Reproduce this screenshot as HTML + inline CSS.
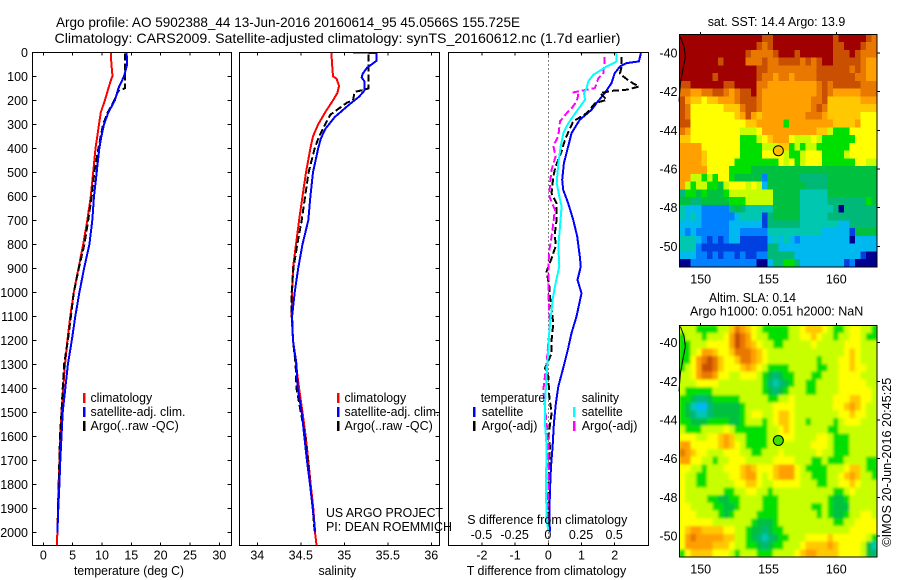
<!DOCTYPE html>
<html lang="en">
<head>
<meta charset="utf-8">
<title>Argo profile 5902388_44</title>
<style>
html,body{margin:0;padding:0;background:#fff;width:900px;height:580px;overflow:hidden}
svg{display:block}
text{font-family:"Liberation Sans",sans-serif;fill:#000;font-size:12.5px}
</style>
</head>
<body>
<svg id="fig" xmlns="http://www.w3.org/2000/svg" width="900" height="580" viewBox="0 0 900 580">
<defs>
<clipPath id="clip-t"><rect x="32" y="52" width="200" height="493"/></clipPath>
<clipPath id="clip-s"><rect x="239" y="52" width="201" height="493"/></clipPath>
<clipPath id="clip-d"><rect x="448" y="52" width="201" height="493"/></clipPath>
<clipPath id="clip-m1"><rect x="679" y="34" width="198" height="233"/></clipPath>
<clipPath id="clip-m2"><rect x="679" y="325" width="198" height="232"/></clipPath>
<filter id="smooth" x="-5%" y="-5%" width="110%" height="110%"><feGaussianBlur stdDeviation="1.3"/></filter>
</defs>
<rect x="0" y="0" width="900" height="580" fill="#fff"/>

<text x="56" y="27" font-size="14" style="font-size:14px" textLength="464" lengthAdjust="spacingAndGlyphs">Argo profile: AO 5902388_44 13-Jun-2016 20160614_95 45.0566S 155.725E</text>
<text x="54.5" y="43" font-size="14" style="font-size:14px" textLength="566" lengthAdjust="spacingAndGlyphs">Climatology: CARS2009. Satellite-adjusted climatology: synTS_20160612.nc (1.7d earlier)</text>

<g id="panel-t"></g>
<g id="panel-s"></g>
<g id="panel-d"></g>
<g id="map-sst"></g>
<g id="map-sla"></g>

<text x="74" y="575" textLength="110" lengthAdjust="spacingAndGlyphs">temperature (deg C)</text>
<text x="318.5" y="575" textLength="37.5" lengthAdjust="spacingAndGlyphs">salinity</text>
<text x="466.7" y="575" textLength="159.5" lengthAdjust="spacingAndGlyphs">T difference from climatology</text>
<text x="467.3" y="524" textLength="160" lengthAdjust="spacingAndGlyphs">S difference from climatology</text>

<g>
<rect x="83" y="393" width="2.5" height="10" fill="#f00"/>
<rect x="83" y="407" width="2.5" height="10" fill="#00f"/>
<rect x="83" y="421" width="2.5" height="10" fill="#000"/>
<text x="90.5" y="402" textLength="61.7" lengthAdjust="spacingAndGlyphs">climatology</text>
<text x="90.5" y="416" textLength="95" lengthAdjust="spacingAndGlyphs">satellite-adj. clim.</text>
<text x="90.5" y="430" textLength="88.3" lengthAdjust="spacingAndGlyphs">Argo(..raw -QC)</text>
</g>
<g>
<rect x="337" y="393" width="2.5" height="10" fill="#f00"/>
<rect x="337" y="407" width="2.5" height="10" fill="#00f"/>
<rect x="337" y="421" width="2.5" height="10" fill="#000"/>
<text x="344.5" y="402" textLength="61.7" lengthAdjust="spacingAndGlyphs">climatology</text>
<text x="344.5" y="416" textLength="95" lengthAdjust="spacingAndGlyphs">satellite-adj. clim.</text>
<text x="344.5" y="430" textLength="88.3" lengthAdjust="spacingAndGlyphs">Argo(..raw -QC)</text>
</g>
<g>
<text x="480.7" y="402" textLength="64.3" lengthAdjust="spacingAndGlyphs">temperature</text>
<rect x="473" y="407" width="2.5" height="10" fill="#00f"/>
<rect x="473" y="421" width="2.5" height="10" fill="#000"/>
<text x="481.7" y="416" textLength="41.7" lengthAdjust="spacingAndGlyphs">satellite</text>
<text x="481.7" y="430" textLength="55.7" lengthAdjust="spacingAndGlyphs">Argo(-adj)</text>
<text x="581.7" y="402" textLength="37.3" lengthAdjust="spacingAndGlyphs">salinity</text>
<rect x="573" y="407" width="2.5" height="10" fill="#0ff"/>
<rect x="573" y="421" width="2.5" height="10" fill="#f0f"/>
<text x="581.7" y="416" textLength="41" lengthAdjust="spacingAndGlyphs">satellite</text>
<text x="581.7" y="430" textLength="55.7" lengthAdjust="spacingAndGlyphs">Argo(-adj)</text>
</g>

<text x="326" y="517" textLength="117" lengthAdjust="spacingAndGlyphs">US ARGO PROJECT</text>
<text x="326" y="531" textLength="126" lengthAdjust="spacingAndGlyphs">PI: DEAN ROEMMICH</text>

<text x="707.7" y="26" textLength="137.6" lengthAdjust="spacingAndGlyphs">sat. SST: 14.4  Argo: 13.9</text>
<text x="709" y="302" textLength="87" lengthAdjust="spacingAndGlyphs">Altim. SLA: 0.14</text>
<text x="690" y="315.5" textLength="173.3" lengthAdjust="spacingAndGlyphs">Argo h1000: 0.051 h2000: NaN</text>
<text transform="translate(891 546.7) rotate(-90)" x="0" y="0" textLength="169" lengthAdjust="spacingAndGlyphs">©IMOS 20-Jun-2016 20:45:25</text>
</svg>

<script>
// ---- profile data (depth in dbar) ----
const depthTicks = [0,100,200,300,400,500,600,700,800,900,1000,1100,1200,1300,1400,1500,1600,1700,1800,1900,2000];
const tempTicks = [0,5,10,15,20,25,30];
const salTicks = [34,34.5,35,35.5,36];
const salTickLabels = ['34','34.5','35','35.5','36'];
const tDiffTicks = [-2,-1,0,1,2];
const tDiffLabels = ['-2','-1','0','1','2'];
const sDiffTicks = [-0.5,-0.25,0,0.25,0.5];
const sDiffLabels = ['-0.5','-0.25','0','0.25','0.5'];

const tempClimDepth = [0,50,100,110,150,200,250,300,350,400,500,600,700,800,900,1000,1100,1200,1300,1400,1500,1600,1700,1800,1900,2000,2053];
const tempClim = [11.5,11.6,11.8,11.6,11.1,10.5,9.8,9.5,9.2,8.9,8.5,8.1,7.5,6.8,6,5.2,4.6,4.1,3.7,3.4,3.1,2.85,2.75,2.6,2.5,2.4,2.3];
const tempSatDepth = [0,50,100,150,200,250,300,350,400,500,600,700,800,900,1000,1100,1200,1300,1400,1500,1600,1700,1800,1900,2000];
const tempSat = [14.2,14.3,13.75,12.8,12.2,11.1,10.35,9.9,9.55,9.1,8.65,8.35,7.85,6.95,6.15,5.45,4.85,4.2,3.75,3.3,3.1,2.9,2.75,2.55,2.4];
const tempArgoDepth = [6,150,160,200,250,300,400,500,600,700,800,900,1000,1100,1200,1300,1400,1500,1600,1700,1800,2000];
const tempArgo = [13.9,13.9,12.8,12.1,11,10.2,9.4,8.7,8.25,7.65,7,6.05,5.2,4.7,4.2,3.55,3.3,3.1,2.85,2.75,2.6,2.4];

const salClimDepth = [0,50,100,110,140,170,200,250,300,350,400,500,600,700,800,900,1000,1100,1200,1300,1400,1500,1600,1700,1800,1900,2000,2053];
const salClim = [34.85,34.86,34.87,34.91,34.94,34.92,34.87,34.78,34.7,34.64,34.61,34.56,34.52,34.48,34.445,34.41,34.4,34.395,34.41,34.445,34.48,34.52,34.556,34.586,34.614,34.644,34.663,34.68];
const salSatDepth = [0,3,35,65,90,105,120,160,185,220,270,320,360,400,500,600,700,800,900,1000,1100,1200,1300,1400,1500,1600,1700,1800,1900,2000];
const salSat = [35.1,35.37,35.37,35.26,35.21,35.2,35.23,35.23,35.17,35.05,34.89,34.78,34.73,34.7,34.64,34.61,34.586,34.52,34.47,34.43,34.4,34.41,34.45,34.464,34.51,34.54,34.57,34.606,34.637,34.667];
const salArgoDepth = [10,150,155,165,200,210,260,300,350,400,500,600,700,800,900,1000,1100,1200,1300,1400,1500,1600,1700,1800,1900,2000];
const salArgo = [35.28,35.28,35.24,35.12,35.1,35.03,34.84,34.78,34.71,34.66,34.59,34.55,34.51,34.46,34.415,34.395,34.395,34.41,34.44,34.45,34.5,34.55,34.58,34.606,34.637,34.66];

const dTSatDepth = [3,38,45,59,87,129,170,212,240,281,337,392,462,531,573,629,698,767,851,892,948,1004,1101,1170,1233,1316,1393,1462,1546,1643,1726,1823,1934,1997];
const dTSat = [2.79,2.73,2.36,2.16,2,1.9,1.7,1.45,1.3,0.95,0.7,0.6,0.47,0.42,0.45,0.6,0.75,0.87,0.95,0.98,0.88,1,0.85,0.7,0.6,0.45,0.3,0.23,0.17,0.13,0.08,0.05,0.03,0.05];
const dTArgoDepth = [20,59,87,101,122,143,156,160,170,198,212,254,288,365,413,476,517,587,629,698,753,809,865,913,976,1017,1129,1198,1254,1316,1351,1434,1504,1601,1643,1823,1990];
const dTArgo = [2.21,2.21,2.16,2.26,2.46,2.73,2.36,1.96,1.56,1.76,1.41,1.15,0.75,0.5,0.4,0.22,0.15,0.1,0.25,0.25,0.2,0.22,0.08,-0.05,0.03,0.05,0.15,0.1,0.1,-0.1,0,0.03,0.1,0,0.05,0,0];
const dSSatDepth = [2,3,38,59,94,121,149,170,198,246,295,337,392,462,545,601,642,726,809,892,976,1030,1073,1156,1240,1351,1462,1546,1643,1823,1934,1997];
const dSSat = [0.238,0.515,0.515,0.44,0.339,0.301,0.289,0.269,0.276,0.213,0.151,0.113,0.093,0.075,0.063,0.083,0.1,0.088,0.075,0.083,0.05,0.033,0.025,0.008,0,-0.013,-0.025,-0.025,-0.013,-0.018,-0.013,0];
const dSArgoDepth = [20,50,87,108,149,156,167,177,205,233,254,288,350,389,434,489,545,601,656,712,767,823,892,962,1017,1129,1295,1407,1546,1629,1823,1962];
const dSArgo = [0.422,0.422,0.414,0.377,0.351,0.289,0.188,0.226,0.213,0.176,0.138,0.088,0.075,0.038,0.055,0.025,0.013,0.008,0.05,0.038,0.025,0.008,0,0,0,0.013,-0.013,-0.038,-0.013,0,0,-0.008];

// ---- map data ----
const lonTicks = [150,155,160];
const latTicks = [-40,-42,-44,-46,-48,-50];
const coastLon = [148.5,148.77,148.87,148.68,148.5,148.4];
const coastLat = [-39.16,-39.67,-40.19,-40.88,-41.57,-42.52];
const argoLon = [155.725];
const argoLat = [-45.0566];
const colourLevels = ['#000090','#0040e0','#0080ff','#00b8f0','#00c8b0','#00b878','#00c040','#00e000','#c8ff00','#ffff00','#ffc800','#ffa000','#e87800','#c85000','#a00000'];

const sstRow00 = [14,14,14,14,14,14,14,14,14,14,14,14,14,14,14,13,13,14,14,14,14,14,14,14,14,14,14,14,13,14,14,14,14,14,13,12];
const sstRow01 = [14,14,14,14,14,14,14,14,14,14,14,14,14,14,13,12,13,14,14,14,14,14,14,14,14,14,14,14,13,13,14,14,14,13,12,12];
const sstRow02 = [14,14,14,14,14,14,14,14,14,14,14,14,13,12,12,12,12,13,14,14,14,13,14,14,14,14,14,14,13,13,13,14,13,12,12,12];
const sstRow03 = [14,14,14,14,14,14,14,13,14,14,14,14,12,12,12,13,12,12,13,13,13,13,12,13,12,13,14,14,13,13,13,13,13,12,11,11];
const sstRow04 = [14,14,14,14,14,14,14,14,14,14,14,14,14,14,13,13,12,12,12,12,12,12,12,12,12,13,13,13,13,13,13,12,13,12,11,11];
const sstRow05 = [14,14,14,14,14,14,13,14,14,14,14,14,14,14,13,12,12,11,12,12,11,12,12,12,12,13,13,13,13,13,13,13,12,12,11,11];
const sstRow06 = [13,13,14,14,14,14,14,14,13,13,14,14,14,14,12,12,11,11,11,11,11,11,11,11,11,12,13,12,13,13,13,13,13,12,12,12];
const sstRow07 = [12,12,11,11,12,12,13,13,12,11,12,13,13,14,12,11,11,11,11,11,11,11,11,11,11,12,13,12,11,11,11,11,11,12,12,12];
const sstRow08 = [13,11,10,10,9,10,10,11,11,11,12,13,13,13,12,11,11,11,11,11,11,11,11,11,12,12,13,10,10,10,10,10,10,11,11,11];
const sstRow09 = [13,12,9,9,9,9,9,9,10,10,10,12,13,13,12,11,11,11,11,11,11,11,11,11,12,13,12,10,10,10,10,10,10,10,10,10];
const sstRow10 = [13,12,9,9,9,9,9,9,9,9,10,11,13,11,10,11,11,11,11,11,11,11,11,12,12,12,11,10,10,10,10,10,10,9,9,9];
const sstRow11 = [13,13,9,9,9,9,9,9,9,9,9,9,10,10,11,11,11,11,11,7,11,11,11,11,11,11,11,11,10,10,10,10,11,9,9,9];
const sstRow12 = [12,11,9,9,9,9,9,9,9,9,9,8,8,8,9,11,11,11,11,11,11,11,11,11,11,10,10,8,7,7,7,9,9,9,9,9];
const sstRow13 = [10,10,9,9,9,9,9,9,9,9,9,7,7,7,8,9,10,11,11,11,9,8,8,8,9,8,7,7,7,7,7,7,9,9,9,9];
const sstRow14 = [11,11,11,11,9,9,9,9,9,9,9,7,7,7,7,8,8,8,10,10,7,8,7,8,8,7,7,7,7,7,7,9,9,9,9,9];
const sstRow15 = [11,11,11,11,10,9,9,9,9,9,9,7,7,7,7,9,9,9,9,8,7,7,8,9,9,9,7,7,7,7,8,9,9,9,9,9];
const sstRow16 = [11,11,11,11,10,9,9,9,9,9,7,7,7,7,7,7,7,7,9,8,9,7,8,9,9,9,7,7,7,7,7,7,9,9,8,8];
const sstRow17 = [11,11,11,11,11,9,9,9,9,7,7,7,7,6,6,6,6,6,6,6,6,6,6,6,6,6,6,6,6,6,6,6,6,6,6,6];
const sstRow18 = [11,11,8,8,7,8,7,9,9,7,6,6,6,6,6,2,6,6,6,6,6,6,5,5,5,5,5,6,6,6,6,6,6,6,6,6];
const sstRow19 = [11,8,7,8,8,7,7,6,8,9,9,9,8,9,8,3,6,6,6,6,6,6,6,5,5,5,5,6,6,6,6,6,6,6,6,6];
const sstRow20 = [5,7,7,6,7,6,6,6,7,8,8,8,8,8,8,8,8,6,6,6,6,6,4,4,4,4,4,6,6,6,6,6,6,6,6,6];
const sstRow21 = [6,6,5,5,6,6,6,6,6,7,7,7,8,8,8,8,8,6,6,6,6,6,4,4,4,4,4,5,5,5,5,5,5,5,7,6];
const sstRow22 = [4,3,3,3,2,2,2,2,2,5,6,5,4,4,4,4,4,6,6,6,6,6,4,4,4,4,4,4,5,0,5,5,5,5,5,5];
const sstRow23 = [4,3,4,3,2,2,2,2,2,2,3,4,4,4,4,1,5,6,6,6,6,6,4,4,4,4,4,5,5,5,5,5,5,5,5,5];
const sstRow24 = [3,3,3,3,2,2,2,2,2,3,3,3,3,3,3,1,5,5,5,5,5,5,4,4,4,4,4,4,4,3,3,5,5,5,5,5];
const sstRow25 = [3,2,3,2,2,2,2,2,2,3,3,2,2,2,2,2,4,4,4,4,4,4,4,4,4,4,3,3,3,3,3,1,6,6,6,6];
const sstRow26 = [4,4,4,3,2,1,2,1,2,3,3,1,1,1,1,1,3,4,3,4,3,2,3,3,3,3,3,3,3,3,3,0,3,3,3,3];
const sstRow27 = [4,4,4,2,1,1,1,1,1,1,1,1,1,1,1,1,5,5,3,3,3,3,3,3,3,3,3,3,3,3,3,3,3,3,3,3];
const sstRow28 = [3,3,3,2,2,1,2,1,2,2,1,2,1,1,2,2,5,5,5,5,5,3,3,3,3,3,3,3,3,3,3,3,3,1,0,0];
const sstRow29 = [0,0,2,2,2,2,2,2,2,2,2,2,2,2,0,0,3,5,5,7,7,5,3,3,3,3,3,3,3,3,1,2,0,0,0,0];
const sstGrid = [sstRow00,sstRow01,sstRow02,sstRow03,sstRow04,sstRow05,sstRow06,sstRow07,sstRow08,sstRow09,sstRow10,sstRow11,sstRow12,sstRow13,sstRow14,sstRow15,sstRow16,sstRow17,sstRow18,sstRow19,sstRow20,sstRow21,sstRow22,sstRow23,sstRow24,sstRow25,sstRow26,sstRow27,sstRow28,sstRow29];

const slaRow00 = [8,8,8,7,7,7,7,8,8,10,12,11,10,9,8,7,7,7,7,7,8,8,9,10,10,10,9,8,7,7,8,9,9,8,8,7];
const slaRow01 = [7,8,8,8,7,8,8,8,9,11,13,12,11,9,8,8,7,7,7,7,8,8,9,9,10,9,8,8,7,8,8,9,9,8,7,7];
const slaRow02 = [7,7,8,8,8,9,9,9,9,11,13,12,11,10,9,8,8,7,7,8,8,8,8,8,9,8,8,8,8,8,9,9,9,8,8,8];
const slaRow03 = [7,7,8,9,11,11,10,9,9,10,12,12,12,11,10,9,8,8,8,8,8,8,8,8,8,8,8,8,8,8,9,10,9,8,8,8];
const slaRow04 = [7,7,9,11,12,13,12,10,9,9,10,12,12,11,10,9,8,8,8,8,8,8,8,8,8,7,8,8,8,9,9,10,9,8,8,8];
const slaRow05 = [7,8,9,11,13,13,12,10,9,9,9,10,11,10,9,8,7,7,7,7,8,8,8,8,8,7,7,8,8,9,9,10,9,9,8,8];
const slaRow06 = [8,8,9,11,12,12,11,9,9,8,8,9,9,9,8,7,6,5,6,7,7,8,8,8,7,7,8,8,8,9,9,9,9,8,8,8];
const slaRow07 = [8,8,8,9,9,9,9,8,8,8,8,8,8,8,8,7,5,4,5,6,7,8,8,7,7,8,8,8,8,9,9,9,9,9,8,8];
const slaRow08 = [8,7,7,7,7,7,8,8,8,8,8,8,8,8,8,7,6,5,6,7,8,8,8,7,7,8,8,8,8,9,9,9,9,9,9,8];
const slaRow09 = [7,7,6,5,5,6,7,7,7,7,7,8,8,8,8,8,7,7,8,8,9,8,8,8,8,8,8,8,9,9,9,10,10,9,9,8];
const slaRow10 = [7,6,4,3,3,5,6,6,6,6,6,7,8,8,8,8,8,9,9,9,9,8,8,8,8,8,8,8,9,9,10,11,10,9,8,8];
const slaRow11 = [7,6,5,4,4,5,6,6,6,6,6,7,8,9,9,8,8,9,10,10,9,8,8,8,8,8,8,8,8,9,9,10,9,9,8,8];
const slaRow12 = [7,7,6,6,6,7,7,7,7,6,6,7,8,8,8,7,8,9,10,10,9,8,8,7,8,8,8,8,7,8,9,9,9,8,8,8];
const slaRow13 = [8,7,7,7,8,8,8,8,9,8,7,7,7,7,7,7,8,8,9,10,9,8,8,8,8,8,8,7,7,8,8,8,8,8,8,8];
const slaRow14 = [9,9,9,8,8,9,9,10,11,10,8,8,7,7,7,7,8,8,9,9,9,8,8,8,8,9,9,8,7,7,7,8,8,8,8,8];
const slaRow15 = [11,11,9,9,9,9,9,10,11,10,9,8,7,7,7,7,8,8,8,8,8,8,8,8,9,9,9,8,7,7,7,8,8,8,8,8];
const slaRow16 = [12,11,10,9,9,8,8,8,9,9,9,8,8,7,7,8,8,8,9,8,8,8,8,8,8,9,8,8,7,7,7,8,8,8,8,8];
const slaRow17 = [11,11,9,9,8,8,7,8,8,9,9,9,8,8,8,8,8,9,9,9,9,8,8,8,7,7,8,7,7,7,8,8,8,8,7,7];
const slaRow18 = [9,9,8,8,7,8,8,8,9,9,9,10,11,10,9,9,9,10,11,11,11,9,8,7,7,7,7,8,8,8,9,10,10,8,7,7];
const slaRow19 = [9,8,8,7,7,8,8,8,8,9,9,10,11,11,9,8,9,10,11,11,11,9,8,8,7,7,7,8,8,9,10,11,10,8,8,7];
const slaRow20 = [9,8,8,7,7,8,8,8,8,8,9,9,10,10,9,8,8,9,9,9,9,9,8,8,8,7,7,8,8,9,9,10,9,8,8,8];
const slaRow21 = [9,8,8,8,8,8,8,8,7,7,8,8,9,9,8,8,7,8,8,8,8,8,8,8,8,8,8,8,7,7,8,9,8,8,8,8];
const slaRow22 = [9,8,8,8,8,7,7,6,6,7,7,8,8,8,8,7,7,7,8,8,8,8,8,8,8,8,8,7,6,6,7,8,8,8,8,8];
const slaRow23 = [9,9,8,8,8,8,7,7,6,6,7,8,8,8,8,7,7,7,8,8,8,8,8,8,7,7,8,7,6,6,6,8,8,8,8,8];
const slaRow24 = [9,9,9,8,8,8,8,7,6,7,8,8,8,8,7,7,7,7,8,8,8,8,8,8,8,7,8,7,6,6,7,8,8,9,9,8];
const slaRow25 = [9,9,9,9,9,9,8,8,8,8,8,8,8,7,6,6,6,7,8,8,8,8,8,8,8,8,8,8,7,7,8,8,9,9,9,9];
const slaRow26 = [9,10,11,11,10,10,10,10,9,9,8,8,7,6,6,5,6,7,7,8,8,8,8,8,8,8,8,8,8,8,8,9,9,9,9,9];
const slaRow27 = [9,11,12,11,11,11,11,11,10,10,8,8,7,6,5,4,5,6,7,7,8,8,8,9,9,9,9,10,9,9,9,9,9,9,8,7];
const slaRow28 = [9,11,11,11,11,11,10,10,10,9,8,8,7,7,6,5,6,7,7,8,8,8,9,10,10,10,10,11,10,9,9,9,9,8,6,4];
const slaRow29 = [7,9,10,10,10,10,9,9,9,8,7,8,8,8,7,7,7,8,8,8,8,9,10,11,11,10,10,10,10,9,9,9,9,8,6,5];
const slaGrid = [slaRow00,slaRow01,slaRow02,slaRow03,slaRow04,slaRow05,slaRow06,slaRow07,slaRow08,slaRow09,slaRow10,slaRow11,slaRow12,slaRow13,slaRow14,slaRow15,slaRow16,slaRow17,slaRow18,slaRow19,slaRow20,slaRow21,slaRow22,slaRow23,slaRow24,slaRow25,slaRow26,slaRow27,slaRow28,slaRow29];

// ---- axis functions ----
const NS = 'http://www.w3.org/2000/svg';
const yDepth = d => 52.3 + 0.24 * d;
const xTemp = t => 43.3 + 5.867 * t;
const xSal = s => 257.3 + 87 * (s - 34);
const xDT = t => 548.3 + 33.2 * t;
const xDS = s => 548.3 + 132.8 * s;
const xLon = lon => 700.7 + 13.56 * (lon - 150);
const ySstLat = lat => 53 + 19.33 * (-40 - lat);
const ySlaLat = lat => 342.7 + 19.33 * (-40 - lat);

function mk(parent, tag, attrs, txt) {
  const el = document.createElementNS(NS, tag);
  for (const k in attrs) el.setAttribute(k, attrs[k]);
  if (txt !== undefined) el.textContent = txt;
  parent.appendChild(el);
  return el;
}

function frame(parent, x, y, w, h) {
  const el = mk(parent, 'rect', {x: x, y: y, width: w, height: h, fill: 'none', stroke: '#000', 'stroke-width': 1, 'shape-rendering': 'crispEdges'});
  
  
}

function tick(parent, x1, y1, x2, y2) {
  const el = mk(parent, 'line', {x1: x1, y1: y1, x2: x2, y2: y2, stroke: '#000', 'stroke-width': 1, 'shape-rendering': 'crispEdges'});
  
  
}

function label(parent, x, y, str, anchor) {
  const el = mk(parent, 'text', {x: x, y: y, 'text-anchor': anchor}, str);
  
  
}

function profile(parent, xs, ds, xFn, colour, clip, dashed, name) {
  const pts = xs.map((v, i) => xFn(v).toFixed(1) + ',' + yDepth(ds[i]).toFixed(1)).join(' ');
  const attrs = {points: pts, fill: 'none', stroke: colour, 'stroke-width': 2, 'clip-path': 'url(#' + clip + ')', 'stroke-linejoin': 'round', 'shape-rendering': 'crispEdges'};
  if (dashed) attrs['stroke-dasharray'] = '7 3';
  const el = mk(parent, 'polyline', attrs);
  
  
}

// ---- temperature panel ----
const pT = document.getElementById('panel-t');
profile(pT, tempClim, tempClimDepth, xTemp, '#f00', 'clip-t', false, 'temperature-climatology-line');
profile(pT, tempArgo, tempArgoDepth, xTemp, '#000', 'clip-t', true, 'temperature-argo-line');
profile(pT, tempSat, tempSatDepth, xTemp, '#00f', 'clip-t', false, 'temperature-satellite-line');
frame(pT, 32.5, 52.5, 199, 493);
depthTicks.forEach(d => {
  tick(pT, 32.5, yDepth(d), 36.5, yDepth(d));
  tick(pT, 227.5, yDepth(d), 231.5, yDepth(d));
  label(pT, 28, yDepth(d) + 4.5, String(d), 'end');
});
tempTicks.forEach(t => {
  tick(pT, xTemp(t), 52.5, xTemp(t), 55.5);
  tick(pT, xTemp(t), 542.5, xTemp(t), 545.5);
  label(pT, xTemp(t), 559.5, String(t), 'middle');
});

// ---- salinity panel ----
const pS = document.getElementById('panel-s');
profile(pS, salClim, salClimDepth, xSal, '#f00', 'clip-s', false, 'salinity-climatology-line');
profile(pS, salArgo, salArgoDepth, xSal, '#000', 'clip-s', true, 'salinity-argo-line');
profile(pS, salSat, salSatDepth, xSal, '#00f', 'clip-s', false, 'salinity-satellite-line');
frame(pS, 239.5, 52.5, 200, 493);
depthTicks.forEach(d => {
  tick(pS, 435.5, yDepth(d), 439.5, yDepth(d));
});
salTicks.forEach((s, i) => {
  tick(pS, xSal(s), 52.5, xSal(s), 55.5);
  tick(pS, xSal(s), 542.5, xSal(s), 545.5);
  label(pS, xSal(s), 559.5, salTickLabels[i], 'middle');
});

// ---- difference panel ----
const pD = document.getElementById('panel-d');
const zeroLine = mk(pD, 'line', {x1: xDT(0), y1: yDepth(0), x2: xDT(0), y2: 545, stroke: '#000', 'stroke-width': 1, 'stroke-dasharray': '1 3', 'shape-rendering': 'crispEdges'});


profile(pD, dTSat, dTSatDepth, xDT, '#00f', 'clip-d', false, 't-difference-satellite-line');
profile(pD, dTArgo, dTArgoDepth, xDT, '#000', 'clip-d', true, 't-difference-argo-line');
profile(pD, dSArgo, dSArgoDepth, xDS, '#f0f', 'clip-d', true, 's-difference-argo-line');
profile(pD, dSSat, dSSatDepth, xDS, '#0ff', 'clip-d', false, 's-difference-satellite-line');
frame(pD, 448.5, 52.5, 200, 493);
tDiffTicks.forEach((t, i) => {
  tick(pD, xDT(t), 52.5, xDT(t), 55.5);
  tick(pD, xDT(t), 542.5, xDT(t), 545.5);
  label(pD, xDT(t), 559.5, tDiffLabels[i], 'middle');
});
sDiffTicks.forEach((s, i) => {
  label(pD, xDS(s) - 0.5, 539, sDiffLabels[i], 'middle');
});

// ---- maps ----
function drawMap(root, grid, yLat, top, height, clip, blur, markerFill, titleName) {
  const left = 679.5, width = 197.5;
  const cw = width / grid[0].length;
  const ch = height / grid.length;
  const base = mk(root, 'rect', {x: left, y: top, width: width, height: height, fill: colourLevels[8]});
  
  
  const holder = mk(root, 'g', {'clip-path': 'url(#' + clip + ')'});
  
  
  const cells = mk(holder, 'g', blur ? {filter: 'url(#smooth)'} : {});
  
  
  grid.forEach((row, r) => {
    row.forEach((v, c) => {
      const cell = mk(cells, 'rect', {x: left + c * cw, y: top + r * ch, width: cw + 0.6, height: ch + 0.6, fill: colourLevels[v], 'shape-rendering': 'crispEdges'});
      
      
    });
  });
  const coastPts = coastLon.map((lon, i) => xLon(lon).toFixed(1) + ',' + yLat(coastLat[i]).toFixed(1)).join(' ');
  const coast = mk(root, 'polyline', {points: coastPts, fill: 'none', stroke: '#000', 'stroke-width': 1});
  
  
  const marker = mk(root, 'circle', {cx: xLon(argoLon[0]), cy: yLat(argoLat[0]), r: 5, fill: markerFill, stroke: '#000', 'stroke-width': 1});
  
  
  frame(root, left, top + 0.2, width, height);
  lonTicks.forEach(lon => {
    tick(root, xLon(lon), top - 2.5, xLon(lon), top);
    label(root, xLon(lon), top + height + 16.5, String(lon), 'middle');
  });
  latTicks.forEach(lat => {
    tick(root, left + width, yLat(lat), left + width + 3, yLat(lat));
    label(root, 677.5, yLat(lat) + 4.5, String(lat), 'end');
  });
}
drawMap(document.getElementById('map-sst'), sstGrid, ySstLat, 34.3, 232.7, 'clip-m1', false, '#ffc000', 'sst-map');
drawMap(document.getElementById('map-sla'), slaGrid, ySlaLat, 325.3, 231.7, 'clip-m2', true, '#40e000', 'sla-map');
</script>
</body>
</html>
